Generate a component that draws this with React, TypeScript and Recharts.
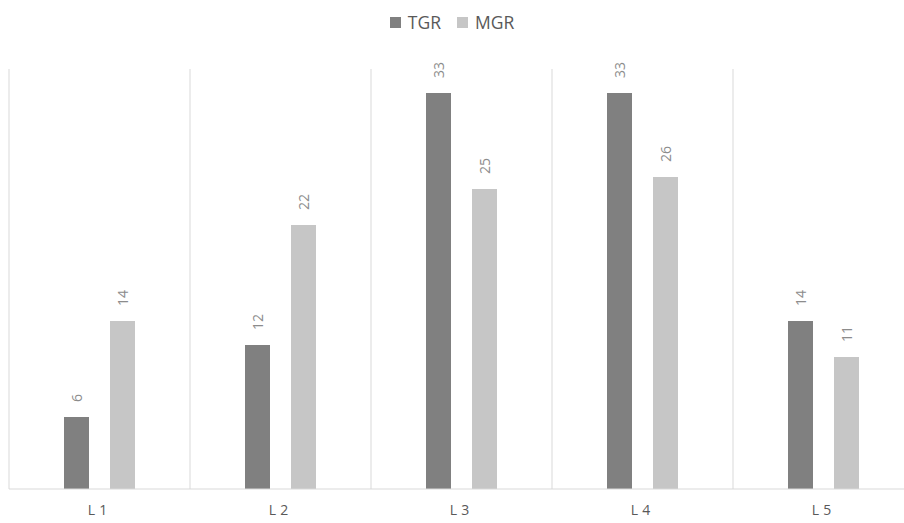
import { BarChart, Bar, XAxis, YAxis, CartesianGrid, Legend, LabelList } from 'recharts'

const levels = ['L1', 'L2', 'L3', 'L4', 'L5']
const tgr = [6, 12, 33, 33, 14]
const mgr = [14, 22, 25, 26, 11]
const seriesNames = ['TGR', 'MGR']
const seriesColors = ['#808080', '#c6c6c6']

const data = levels.map((name, i) => ({ name, TGR: tgr[i], MGR: mgr[i] }))

const font = '"Open Sans", "Segoe UI", sans-serif'

document.body.style.margin = '0'
document.body.style.overflow = 'hidden'

// value text stood on end above each bar
const RotatedLabel = (props: any) => {
  const { x, y, width, value } = props
  const cx = x + width / 2
  const cy = y - 15
  return (
    <text x={cx} y={cy} transform={`rotate(-90, ${cx}, ${cy})`} textAnchor="start" dominantBaseline="central"
      fill="#8c8c8c" fontSize={14} fontFamily={font}>
      {value}
    </text>
  )
}

// grid lines on the category boundaries rather than the centres
const boundaryLines = ({ offset }: any) =>
  Array.from({ length: levels.length + 1 }, (_, i) => offset.left + (i * offset.width) / levels.length)

const SeriesLegend = () => (
  <div style={{ display: 'flex', justifyContent: 'center', gap: 16, fontSize: 17.5, color: '#595959', lineHeight: '20px' }}>
    {seriesNames.map((n, i) => (
      <span key={n} style={{ display: 'flex', alignItems: 'center' }}>
        <span style={{ width: 11, height: 11, background: seriesColors[i], marginRight: 7, display: 'inline-block' }} />
        {n}
      </span>
    ))}
  </div>
)

export default function App() {
  return (
    <div style={{ position: 'fixed', left: 0, top: 0, width: 904, height: 523, overflow: 'hidden', background: '#fff', fontFamily: font }}>
      <BarChart width={920} height={523} data={data} margin={{ top: 49, right: 6, left: 9, bottom: 4 }}
        barCategoryGap={55} barGap={21}>
        <CartesianGrid horizontal={false} stroke="#d9d9d9" verticalCoordinatesGenerator={boundaryLines} />
        <XAxis dataKey="name" tickLine={false} axisLine={{ stroke: '#d9d9d9' }} tickMargin={10}
          tick={{ fill: '#595959', fontSize: 14, letterSpacing: 4 }} />
        <YAxis hide domain={[0, 35]} />
        <Legend verticalAlign="top" content={SeriesLegend} wrapperStyle={{ top: 12, left: 0, width: 904 }} />
        <Bar dataKey="TGR" fill={seriesColors[0]} isAnimationActive={false}>
          <LabelList dataKey="TGR" content={RotatedLabel} />
        </Bar>
        <Bar dataKey="MGR" fill={seriesColors[1]} isAnimationActive={false}>
          <LabelList dataKey="MGR" content={RotatedLabel} />
        </Bar>
      </BarChart>
    </div>
  )
}
